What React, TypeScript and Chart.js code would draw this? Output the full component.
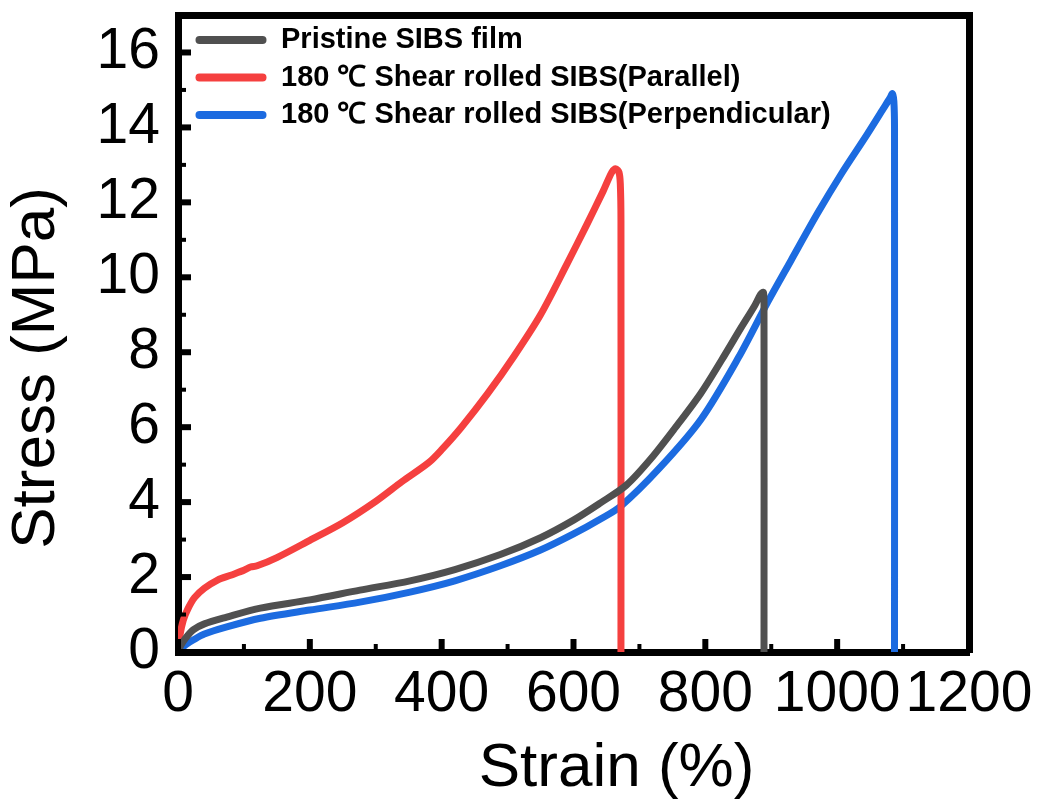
import React, { useEffect, useRef } from 'react';
import { Chart, registerables } from 'chart.js';

Chart.register(...registerables);

// ---- data ----
const pristineStrain = [0, 5, 12, 23, 40, 74, 125, 200, 276, 352, 420, 489, 550, 600, 641, 680, 717, 755, 793, 825, 854, 875, 884, 888, 889, 889];
const pristineStress = [0, 0.2, 0.38, 0.59, 0.75, 0.93, 1.17, 1.39, 1.65, 1.9, 2.2, 2.6, 3.05, 3.52, 3.98, 4.45, 5.15, 6.0, 6.9, 7.8, 8.65, 9.25, 9.55, 9.6, 9.3, 0];

const parallelStrain = [0, 3, 8, 15, 25, 40, 60, 80, 100, 110, 120, 150, 200, 250, 300, 340, 380, 400, 430, 470, 510, 550, 590, 620, 645, 658, 664, 669, 671, 672, 672];
const parallelStress = [0, 0.45, 0.85, 1.15, 1.45, 1.7, 1.92, 2.05, 2.18, 2.27, 2.3, 2.52, 2.98, 3.45, 4.02, 4.55, 5.05, 5.4, 6.0, 6.9, 7.9, 9.0, 10.35, 11.4, 12.3, 12.8, 12.9, 12.8, 12.5, 11.5, 0];

const perpStrain = [0, 5, 12, 23, 40, 74, 125, 200, 276, 352, 420, 489, 550, 600, 641, 671, 730, 793, 850, 895, 930, 970, 1006, 1045, 1070, 1080, 1084, 1086, 1087, 1087];
const perpStress = [0, 0.1, 0.2, 0.32, 0.48, 0.67, 0.9, 1.12, 1.33, 1.6, 1.9, 2.3, 2.72, 3.15, 3.55, 3.88, 4.9, 6.2, 7.85, 9.35, 10.45, 11.7, 12.75, 13.8, 14.5, 14.78, 14.9, 14.7, 14.0, 0];

const seriesLabels = [
  'Pristine SIBS film',
  '180 ℃ Shear rolled SIBS(Parallel)',
  '180 ℃ Shear rolled SIBS(Perpendicular)',
];
const seriesColors = ['#505050', '#f5403f', '#1c6be0'];

const xTickLabels = [0, 200, 400, 600, 800, 1000, 1200];
const yTickLabels = [0, 2, 4, 6, 8, 10, 12, 14, 16];
const xMinorTicks = [100, 300, 500, 700, 900, 1100];
const yMinorTicks = [1, 3, 5, 7, 9, 11, 13, 15];

const xTitle = '     Strain (%)';
const yTitle = 'Stress (MPa)    ';

const toPoints = (xs: number[], ys: number[]) => xs.map((x, i) => ({ x, y: ys[i] }));

const inwardTicks = {
  id: 'inwardTicks',
  afterLayout(chart: any) {
    const lg = chart.legend;
    const ca = chart.chartArea;
    if (lg) {
      const w = lg.width;
      const h = lg.height;
      lg.left = ca.left + 9;
      lg.right = lg.left + w;
      lg.top = ca.top + 2;
      lg.bottom = lg.top + h;
    }
  },
  afterDatasetsDraw(chart: any) {
    const { ctx, chartArea } = chart;
    const xs = chart.scales.x;
    const ys = chart.scales.y;
    ctx.save();
    ctx.strokeStyle = '#000';
    const drawX = (v: number, major: boolean) => {
      const px = xs.getPixelForValue(v);
      ctx.lineWidth = major ? 6 : 4;
      ctx.beginPath();
      ctx.moveTo(px, chartArea.bottom);
      ctx.lineTo(px, chartArea.bottom - (major ? 13 : 8));
      ctx.stroke();
    };
    const drawY = (v: number, major: boolean) => {
      const py = ys.getPixelForValue(v);
      ctx.lineWidth = major ? 6 : 4;
      ctx.beginPath();
      ctx.moveTo(chartArea.left, py);
      ctx.lineTo(chartArea.left + (major ? 13 : 8), py);
      ctx.stroke();
    };
    xTickLabels.forEach((v) => drawX(v, true));
    xMinorTicks.forEach((v) => drawX(v, false));
    yTickLabels.forEach((v) => drawY(v, true));
    yMinorTicks.forEach((v) => drawY(v, false));
    ctx.restore();
  },
};

export default function App() {
  const canvasRef = useRef<HTMLCanvasElement | null>(null);

  useEffect(() => {
    if (!canvasRef.current) return;
    const strains = [pristineStrain, parallelStrain, perpStrain];
    const stresses = [pristineStress, parallelStress, perpStress];
    const chart = new Chart(canvasRef.current, {
      type: 'line',
      data: {
        datasets: seriesLabels.map((label, i) => ({
          label,
          data: toPoints(strains[i], stresses[i]),
          borderColor: seriesColors[i],
          backgroundColor: seriesColors[i],
          borderWidth: 7,
          pointRadius: 0,
          tension: 0.3,
          borderCapStyle: 'round',
          borderJoinStyle: 'round',
          fill: false,
        })),
      },
      options: {
        animation: false,
        responsive: true,
        maintainAspectRatio: false,
        layout: { padding: 0 },
        plugins: {
          tooltip: { enabled: false },
          legend: {
            position: 'chartArea',
            align: 'start',
            labels: {
              boxWidth: 71,
              boxHeight: 8,
              useBorderRadius: true,
              borderRadius: 4,
              padding: 8.5,
              color: '#000',
              font: { family: '"Liberation Sans", Arial, sans-serif', size: 29, weight: 'bold' },
              generateLabels: (c: any) =>
                Chart.defaults.plugins.legend.labels.generateLabels(c).map((l: any) => ({
                  ...l,
                  lineWidth: 0,
                  strokeStyle: 'rgba(0,0,0,0)',
                })),
            },
          },
        },
        scales: {
          x: {
            type: 'linear',
            position: 'bottom',
            min: 0,
            max: 1200,
            afterBuildTicks: (s: any) => { s.ticks = xTickLabels.map((v) => ({ value: v })); },
            afterFit: (s: any) => { s.height = 154; s.paddingLeft = 0; s.paddingRight = 0; },
            grid: { display: false, drawTicks: false },
            border: { display: true, color: '#000', width: 7 },
            ticks: {
              autoSkip: false,
              maxRotation: 0,
              padding: 9,
              color: '#000',
              callback: (v: any) => String(v),
              font: { family: '"Liberation Sans", Arial, sans-serif', size: 57 },
            },
            title: {
              display: true,
              text: xTitle,
              color: '#000',
              padding: { top: 0, bottom: 0 },
              font: { family: '"Liberation Sans", Arial, sans-serif', size: 62 },
            },
          },
          y: {
            type: 'linear',
            position: 'left',
            min: 0,
            max: 17,
            afterBuildTicks: (s: any) => { s.ticks = yTickLabels.map((v) => ({ value: v })); },
            afterFit: (s: any) => { s.width = 178; s.paddingTop = 0; s.paddingBottom = 0; },
            grid: { display: false, drawTicks: false },
            border: { display: true, color: '#000', width: 7 },
            ticks: {
              padding: 18,
              color: '#000',
              callback: (v: any) => String(v),
              font: { family: '"Liberation Sans", Arial, sans-serif', size: 57 },
            },
            title: {
              display: true,
              text: yTitle,
              color: '#000',
              padding: { top: 0, bottom: 0 },
              font: { family: '"Liberation Sans", Arial, sans-serif', size: 62 },
            },
          },
          x2: {
            type: 'linear',
            position: 'top',
            min: 0,
            max: 1200,
            afterFit: (s: any) => { s.height = 15; s.paddingLeft = 0; s.paddingRight = 0; },
            grid: { display: false, drawTicks: false },
            border: { display: true, color: '#000', width: 7 },
            ticks: { display: false },
          },
          y2: {
            type: 'linear',
            position: 'right',
            min: 0,
            max: 17,
            afterFit: (s: any) => { s.width = 71; s.paddingTop = 0; s.paddingBottom = 0; },
            grid: { display: false, drawTicks: false },
            border: { display: true, color: '#000', width: 7 },
            ticks: { display: false },
          },
        },
      },
      plugins: [inwardTicks],
    } as any);
    return () => chart.destroy();
  }, []);

  return (
    <div style={{ position: 'absolute', left: 0, top: 0, width: 1040, height: 806, background: '#fff' }}>
      <canvas ref={canvasRef} />
    </div>
  );
}
